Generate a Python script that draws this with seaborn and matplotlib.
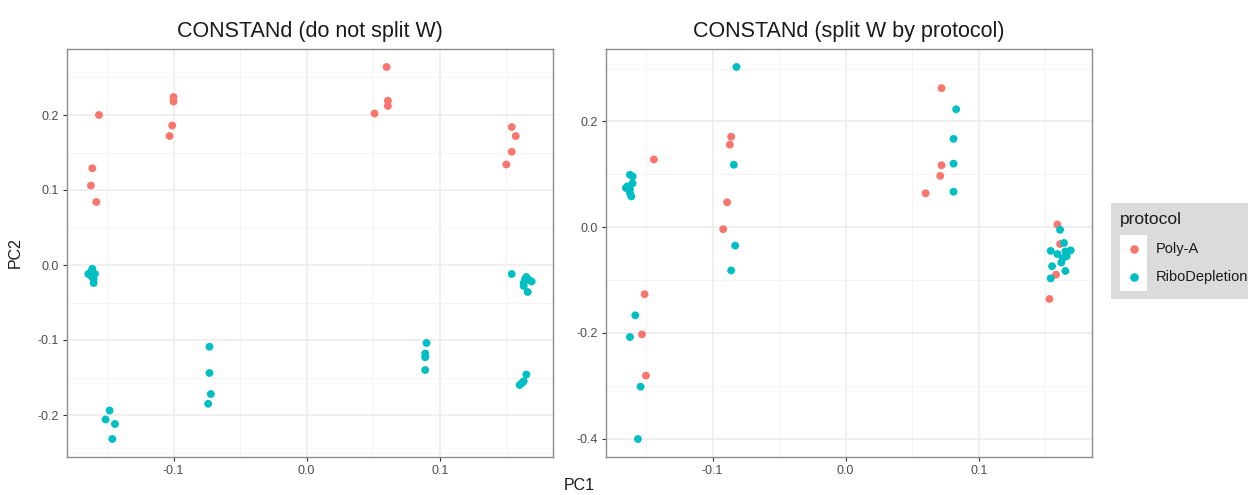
import matplotlib
matplotlib.use("Agg")
import matplotlib.pyplot as plt
from matplotlib.ticker import MultipleLocator
from matplotlib.lines import Line2D
from matplotlib.patches import Rectangle
from matplotlib.legend_handler import HandlerBase
import numpy as np
import pandas as pd
import seaborn as sns

# ---------------- data ----------------
protocols = ["Poly-A", "RiboDepletion"]
colors = ["#F8766D", "#00BFC4"]

titles = ["CONSTANd (do not split W)", "CONSTANd (split W by protocol)"]

left_polya_pc1 = [-0.156, -0.161, -0.162, -0.158, -0.100, -0.100, -0.101, -0.103,
                  0.060, 0.061, 0.061, 0.051, 0.154, 0.157, 0.154, 0.150]
left_polya_pc2 = [0.200, 0.129, 0.106, 0.084, 0.224, 0.218, 0.186, 0.172,
                  0.264, 0.219, 0.212, 0.202, 0.184, 0.172, 0.151, 0.134]

left_ribo_pc1 = [-0.161, -0.164, -0.159, -0.161, -0.160, -0.162, -0.160, -0.162,
                 -0.148, -0.151, -0.144, -0.146,
                 -0.073, -0.073, -0.072, -0.074,
                 0.090, 0.089, 0.089, 0.089,
                 0.154, 0.165, 0.163, 0.169, 0.166, 0.164, 0.167, 0.163,
                 0.165, 0.163, 0.160, 0.162]
left_ribo_pc2 = [-0.005, -0.012, -0.012, -0.016, -0.024, -0.009, -0.019, -0.014,
                 -0.194, -0.206, -0.212, -0.232,
                 -0.109, -0.144, -0.172, -0.185,
                 -0.104, -0.118, -0.123, -0.140,
                 -0.012, -0.016, -0.024, -0.022, -0.036, -0.019, -0.020, -0.028,
                 -0.146, -0.155, -0.160, -0.157]

right_polya_pc1 = [-0.144, -0.151, -0.153, -0.150, -0.086, -0.087, -0.089, -0.092,
                   0.072, 0.072, 0.071, 0.060, 0.159, 0.161, 0.158, 0.153]
right_polya_pc2 = [0.128, -0.127, -0.203, -0.281, 0.171, 0.156, 0.047, -0.004,
                   0.263, 0.117, 0.097, 0.064, 0.005, -0.032, -0.090, -0.136]

right_ribo_pc1 = [-0.162, -0.160, -0.160, -0.164, -0.162, -0.165, -0.162, -0.161,
                  -0.158, -0.162, -0.154, -0.156,
                  -0.082, -0.084, -0.083, -0.086,
                  0.083, 0.081, 0.081, 0.081,
                  0.161, 0.164, 0.154, 0.159, 0.169, 0.165, 0.163, 0.162,
                  0.155, 0.165, 0.154, 0.166]
right_ribo_pc2 = [0.099, 0.096, 0.083, 0.077, 0.072, 0.074, 0.064, 0.058,
                  -0.167, -0.208, -0.302, -0.401,
                  0.303, 0.118, -0.035, -0.082,
                  0.223, 0.167, 0.120, 0.067,
                  -0.005, -0.030, -0.045, -0.051, -0.044, -0.046, -0.059, -0.067,
                  -0.074, -0.083, -0.097, -0.055]

x_ticks = [-0.1, 0.0, 0.1]
left_y_ticks = [-0.2, -0.1, 0.0, 0.1, 0.2]
right_y_ticks = [-0.4, -0.2, 0.0, 0.2]


def make_df(p_x, p_y, r_x, r_y):
    return pd.DataFrame({
        "PC1": list(p_x) + list(r_x),
        "PC2": list(p_y) + list(r_y),
        "protocol": [protocols[0]] * len(p_x) + [protocols[1]] * len(r_x),
    })


df_left = make_df(left_polya_pc1, left_polya_pc2, left_ribo_pc1, left_ribo_pc2)
df_right = make_df(right_polya_pc1, right_polya_pc2, right_ribo_pc1, right_ribo_pc2)

# ---------------- style ----------------
sns.set_style("white")
plt.rcParams["font.family"] = ["Liberation Sans", "DejaVu Sans"]

W, H = 1248, 495
fig = plt.figure(figsize=(W / 100, H / 100), dpi=100)

ax_l = fig.add_axes([67 / W, 1 - 457 / H, 486 / W, 408 / H])
ax_r = fig.add_axes([606 / W, 1 - 457 / H, 486 / W, 408 / H])

palette = dict(zip(protocols, colors))

panels = [
    (ax_l, df_left, titles[0], left_y_ticks, (-0.256, 0.288), 0.05),
    (ax_r, df_right, titles[1], right_y_ticks, (-0.435, 0.337), 0.1),
]

for ax, df, title, yt, ylim, yminor in panels:
    ax.set_axisbelow(True)
    sns.scatterplot(data=df, x="PC1", y="PC2", hue="protocol", hue_order=protocols,
                    palette=palette, s=32, linewidth=0, alpha=1.0, ax=ax,
                    legend=False, zorder=3)
    ax.set_xlim(-0.180, 0.185)
    ax.set_ylim(*ylim)
    ax.set_xticks(x_ticks)
    ax.set_xticklabels([f"{v:.1f}" for v in x_ticks])
    ax.set_yticks(yt)
    ax.set_yticklabels([f"{v:.1f}" for v in yt])
    ax.xaxis.set_minor_locator(MultipleLocator(0.05))
    ax.yaxis.set_minor_locator(MultipleLocator(yminor))
    ax.grid(which="major", color="#EBEBEB", linewidth=1.1)
    ax.grid(which="minor", color="#F2F2F2", linewidth=0.6)
    ax.tick_params(which="major", axis="both", length=3, width=0.8, color="#333333",
                   labelsize=9, labelcolor="#4D4D4D", pad=3, direction="out",
                   bottom=True, left=True)
    ax.tick_params(which="minor", length=0)
    for sp in ax.spines.values():
        sp.set_color("#8C8C8C")
        sp.set_linewidth(1.0)
    ax.set_xlabel("")
    ax.set_ylabel("")
    ax.set_title(title, fontsize=15.5, color="#1A1A1A", pad=9)

fig.text(579.5 / W, 1 - 485 / H, "PC1", ha="center", va="center", fontsize=11.5, color="#1A1A1A")
fig.text(15 / W, 1 - 253 / H, "PC2", ha="center", va="center", rotation=90,
         fontsize=11.5, color="#1A1A1A")


# legend with white key backgrounds (ggplot style)
class KeyHandler(HandlerBase):
    def create_artists(self, legend, orig_handle, xdescent, ydescent, width, height,
                       fontsize, trans):
        rect = Rectangle((-xdescent, -ydescent), width, height, facecolor="white",
                         edgecolor="none", transform=trans)
        dot = Line2D([width / 2 - xdescent], [height / 2 - ydescent], marker="o",
                     linestyle="none", markersize=6.2, markeredgewidth=0,
                     markerfacecolor=orig_handle.get_markerfacecolor(), transform=trans)
        return [rect, dot]


handles = [Line2D([], [], marker="o", linestyle="none", markerfacecolor=c) for c in colors]

leg = fig.legend(handles, protocols, title="protocol", loc="upper left",
                 bbox_to_anchor=(1111 / W, 1 - 203 / H), borderaxespad=0,
                 frameon=True, fancybox=False, facecolor="#D3D3D3", edgecolor="#D3D3D3",
                 fontsize=10.5, title_fontsize=12.5, handlelength=1.9, handleheight=2.55,
                 labelspacing=0.0, handletextpad=0.6, borderpad=0.6,
                 alignment="left", handler_map={Line2D: KeyHandler()})
leg._legend_box.sep = 6
leg.get_frame().set_linewidth(0)
for t in leg.get_texts():
    t.set_color("#1A1A1A")
leg.get_title().set_color("#1A1A1A")

fig.savefig("out.png", dpi=100, facecolor="white")
